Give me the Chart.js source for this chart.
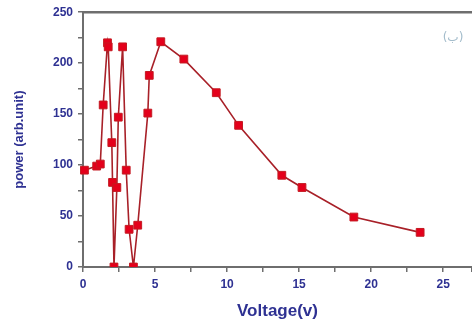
<!DOCTYPE html>
<html>
<head>
<meta charset="utf-8">
<script src="https://cdn.jsdelivr.net/npm/chart.js@4"></script>
<style>
html,body{margin:0;padding:0;background:#fff;}
#wrap{width:472px;height:324px;position:relative;}
</style>
</head>
<body>
<div id="wrap"><canvas id="c" width="472" height="324"></canvas></div>
<script>
const voltage = [0.1, 0.95, 1.2, 1.4, 1.7, 1.75, 2.0, 2.05, 2.15, 2.35, 2.45, 2.75, 3.0, 3.2, 3.5, 3.8, 4.5, 4.6, 5.4, 7.0, 9.25, 10.8, 13.8, 15.2, 18.8, 23.4];
const power = [95, 99, 101, 159, 220, 216, 122, 83, 0, 78, 147, 216, 95, 37, 0, 41, 151, 188, 221, 204, 171, 139, 90, 78, 49, 34];
const xTickLabels = [0, 5, 10, 15, 20, 25];
const yTickLabels = [0, 50, 100, 150, 200, 250];
const panelLabel = "(ب)";

const navy = '#2e3192';
const axisCol = '#6e6e6e';
const tickFont = {family: 'Liberation Sans, Arial, sans-serif', size: 12, weight: 'bold'};

const panelPlugin = {
  id: 'panel',
  afterDraw(chart) {
    const ctx = chart.ctx, a = chart.chartArea;
    ctx.save();
    ctx.fillStyle = '#a3bccb';
    ctx.font = '12px DejaVu Sans, sans-serif';
    ctx.textAlign = 'center';
    ctx.textBaseline = 'middle';
    ctx.fillText(panelLabel, a.right - 19, a.top + 26);
    ctx.restore();
  }
};

function fixX(s, h) { s.height = h; s.paddingLeft = 0; s.paddingRight = 0; }

new Chart(document.getElementById('c'), {
  type: 'line',
  data: {
    datasets: [{
      data: voltage.map((v, i) => ({x: v, y: power[i]})),
      borderColor: '#a82028',
      borderWidth: 1.6,
      pointStyle: 'rect',
      pointRadius: 5.5,
      pointBackgroundColor: '#e4001b',
      pointBorderColor: '#c41a22',
      pointBorderWidth: 1,
      tension: 0,
      fill: false,
      clip: {left: 10, top: 10, right: 10, bottom: 0}
    }]
  },
  options: {
    responsive: false,
    animation: false,
    layout: {padding: 0, autoPadding: false},
    plugins: {legend: {display: false}, tooltip: {enabled: false}},
    scales: {
      x: {
        type: 'linear',
        position: 'bottom',
        min: 0, max: 27,
        afterFit(s) { fixX(s, 57); },
        border: {color: axisCol, width: 2},
        grid: {display: true, drawOnChartArea: false, drawTicks: true, tickLength: 5, color: axisCol, lineWidth: 1.5},
        ticks: {
          stepSize: 2.5,
          autoSkip: false,
          maxRotation: 0,
          padding: 5,
          color: navy,
          font: tickFont,
          callback: v => xTickLabels.includes(v) ? String(v) : ''
        },
        title: {display: true, text: 'Voltage(v)', color: navy, font: {family: 'Liberation Sans, Arial, sans-serif', size: 17, weight: 'bold'}, padding: {top: 0, bottom: 2}}
      },
      x2: {
        type: 'linear',
        position: 'top',
        min: 0, max: 27,
        afterFit(s) { fixX(s, 12); },
        border: {color: axisCol, width: 2.5},
        grid: {display: false},
        ticks: {display: false}
      },
      y: {
        type: 'linear',
        min: 0, max: 250,
        afterFit(s) { s.width = 83; },
        border: {color: axisCol, width: 2},
        grid: {display: true, drawOnChartArea: false, drawTicks: true, tickLength: 5, color: axisCol, lineWidth: 1.5},
        ticks: {
          stepSize: 25,
          autoSkip: false,
          padding: 5,
          color: navy,
          font: tickFont,
          callback: v => yTickLabels.includes(v) ? String(v) : ''
        },
        title: {display: true, text: 'power (arb.unit)', color: navy, font: {family: 'Liberation Sans, Arial, sans-serif', size: 13, weight: 'bold'}, padding: {top: 12, bottom: 0}}
      }
    }
  },
  plugins: [panelPlugin]
});
</script>
</body>
</html>
